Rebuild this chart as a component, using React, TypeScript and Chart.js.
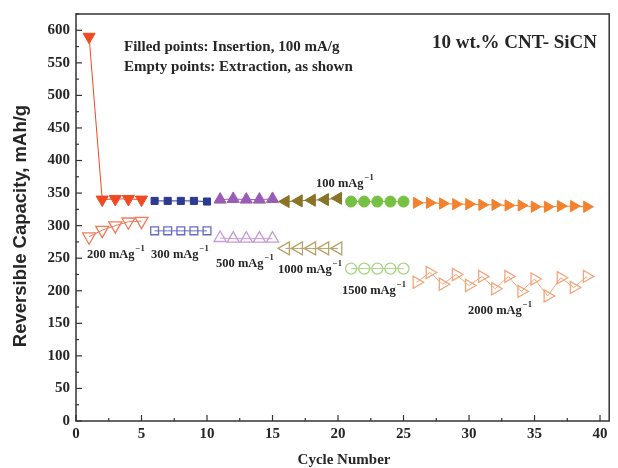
import React, { useEffect, useRef } from "react";
import { Chart, registerables } from "chart.js";

Chart.register(...registerables);

// ---- data ----
const cycles200 = [1, 2, 3, 4, 5];
const cycles300 = [6, 7, 8, 9, 10];
const cycles500 = [11, 12, 13, 14, 15];
const cycles1000 = [16, 17, 18, 19, 20];
const cycles1500 = [21, 22, 23, 24, 25];
const cycles2000 = [26, 27, 28, 29, 30, 31, 32, 33, 34, 35, 36, 37, 38, 39];

const ins200 = [590, 340, 341, 341, 340];
const ins300 = [338, 338, 338, 338, 337];
const ins500 = [340, 341, 340, 340, 341];
const ins1000 = [337, 338, 339, 340, 342];
const ins1500 = [337, 337, 337, 337, 337];
const ins2000 = [335, 335, 334, 333, 333, 332, 332, 331, 331, 329, 329, 330, 330, 329];

const ext200 = [283, 293, 300, 306, 307];
const ext300 = [292, 292, 292, 292, 292];
const ext500 = [281, 280, 280, 280, 280];
const ext1000 = [265, 265, 265, 265, 265];
const ext1500 = [234, 234, 234, 234, 234];
const ext2000 = [213, 228, 210, 225, 208, 222, 203, 222, 199, 218, 192, 220, 205, 222];

const xTicks = [0, 5, 10, 15, 20, 25, 30, 35, 40];
const yTicks = [0, 50, 100, 150, 200, 250, 300, 350, 400, 450, 500, 550, 600];

const SERIF = "'Liberation Serif', 'DejaVu Serif', serif";
const SANS = "'Liberation Sans', Arial, sans-serif";
const TXT = "#262626";

function pts(xs: number[], ys: number[]) {
  return xs.map((x, i) => ({ x, y: ys[i] }));
}

function ds(
  xs: number[],
  ys: number[],
  color: string,
  style: string,
  rotation: number,
  filled: boolean,
  radius: number
) {
  return {
    data: pts(xs, ys),
    borderColor: color,
    backgroundColor: filled ? color : "rgba(255,255,255,0)",
    pointBackgroundColor: filled ? color : "rgba(255,255,255,0)",
    pointBorderColor: color,
    pointBorderWidth: filled ? 1 : 1.3,
    pointStyle: style,
    pointRotation: rotation,
    pointRadius: radius,
    borderWidth: 1,
    showLine: true,
    tension: 0,
  };
}

function drawSup(ctx: CanvasRenderingContext2D, x: number, y: number, base: string, sup: string) {
  ctx.font = `bold 12.5px ${SERIF}`;
  ctx.textAlign = "left";
  ctx.textBaseline = "alphabetic";
  ctx.fillStyle = TXT;
  ctx.fillText(base, x, y);
  const w = ctx.measureText(base).width;
  ctx.font = `bold 8.5px ${SERIF}`;
  ctx.fillText(sup, x + w + 1, y - 7);
}

const decoPlugin = {
  id: "deco",
  afterDraw(chart: any) {
    const ctx: CanvasRenderingContext2D = chart.ctx;
    const { left, right, top, bottom } = chart.chartArea;
    const xs = chart.scales.x;
    const ys = chart.scales.y;
    ctx.save();
    // frame
    ctx.strokeStyle = "#333";
    ctx.lineWidth = 1.5;
    ctx.strokeRect(left, top, right - left, bottom - top);
    // ticks
    ctx.lineWidth = 1.2;
    for (let v = 0; v <= 40.5; v += 2.5) {
      const px = xs.getPixelForValue(v);
      const len = v % 5 === 0 ? 6 : 3;
      ctx.beginPath();
      ctx.moveTo(px, bottom);
      ctx.lineTo(px, bottom - len);
      ctx.stroke();
    }
    for (let v = 0; v <= 625; v += 25) {
      const py = ys.getPixelForValue(v);
      const len = v % 50 === 0 ? 6 : 3;
      ctx.beginPath();
      ctx.moveTo(left, py);
      ctx.lineTo(left + len, py);
      ctx.stroke();
    }
    // tick labels
    ctx.fillStyle = TXT;
    ctx.font = `bold 15px ${SERIF}`;
    ctx.textAlign = "center";
    ctx.textBaseline = "top";
    xTicks.forEach((v) => ctx.fillText(String(v), xs.getPixelForValue(v), bottom + 6));
    ctx.textAlign = "right";
    ctx.textBaseline = "middle";
    yTicks.forEach((v) => ctx.fillText(String(v), left - 6, ys.getPixelForValue(v)));
    // axis titles
    ctx.font = `bold 15px ${SERIF}`;
    ctx.textAlign = "center";
    ctx.textBaseline = "middle";
    ctx.fillText("Cycle Number", 344, 460);
    ctx.save();
    ctx.translate(21, 226);
    ctx.rotate(-Math.PI / 2);
    ctx.font = `bold 18.5px ${SANS}`;
    ctx.fillText("Reversible Capacity, mAh/g", 0, 0);
    ctx.restore();
    // annotations
    ctx.textAlign = "left";
    ctx.textBaseline = "alphabetic";
    ctx.font = `bold 15px ${SERIF}`;
    ctx.fillText("Filled points: Insertion, 100 mA/g", 124, 51);
    ctx.fillText("Empty points: Extraction, as shown", 124, 71);
    ctx.font = `bold 19px ${SERIF}`;
    ctx.fillText("10 wt.% CNT- SiCN", 432, 48);
    drawSup(ctx, 87, 258, "200 mAg", "\u22121");
    drawSup(ctx, 151, 258, "300 mAg", "\u22121");
    drawSup(ctx, 216, 267, "500 mAg", "\u22121");
    drawSup(ctx, 278, 273, "1000 mAg", "\u22121");
    drawSup(ctx, 316, 187, "100 mAg", "\u22121");
    drawSup(ctx, 342, 294, "1500 mAg", "\u22121");
    drawSup(ctx, 468, 314, "2000 mAg", "\u22121");
    ctx.restore();
  },
};

export default function App() {
  const ref = useRef<HTMLCanvasElement>(null);
  useEffect(() => {
    if (!ref.current) return;
    const red = "#ef4a24";
    const redO = "#f27a5c";
    const blue = "#2c3a92";
    const blueO = "#6a6ac4";
    const purple = "#9a5cb4";
    const purpleO = "#c79bd6";
    const olive = "#8a7326";
    const oliveO = "#b7a26a";
    const green = "#76c043";
    const greenO = "#a9d384";
    const orange = "#f3822e";
    const orangeO = "#f4a57a";
    const chart = new Chart(ref.current, {
      type: "scatter",
      data: {
        datasets: [
          ds(cycles200, ins200, red, "triangle", 180, true, 7),
          ds(cycles300, ins300, blue, "rect", 0, true, 5),
          ds(cycles500, ins500, purple, "triangle", 0, true, 7),
          ds(cycles1000, ins1000, olive, "triangle", 270, true, 7),
          ds(cycles1500, ins1500, green, "circle", 0, true, 5.5),
          ds(cycles2000, ins2000, orange, "triangle", 90, true, 6.5),
          ds(cycles200, ext200, redO, "triangle", 180, false, 7.5),
          ds(cycles300, ext300, blueO, "rect", 0, false, 5.5),
          ds(cycles500, ext500, purpleO, "triangle", 0, false, 7),
          ds(cycles1000, ext1000, oliveO, "triangle", 270, false, 7.5),
          ds(cycles1500, ext1500, greenO, "circle", 0, false, 5.5),
          ds(cycles2000, ext2000, orangeO, "triangle", 90, false, 7),
        ] as any,
      },
      options: {
        animation: false,
        responsive: false,
        maintainAspectRatio: false,
        layout: { padding: { top: 14, right: 0, left: 0, bottom: 0 } },
        plugins: { legend: { display: false }, tooltip: { enabled: false } },
        scales: {
          x: {
            type: "linear",
            min: 0,
            max: 40.7,
            grid: { display: false },
            border: { display: false },
            ticks: { display: false },
            afterFit: (s: any) => {
              s.height = 47;
            },
          },
          y: {
            type: "linear",
            min: 0,
            max: 625,
            grid: { display: false },
            border: { display: false },
            ticks: { display: false },
            afterFit: (s: any) => {
              s.width = 76;
            },
          },
        },
      },
      plugins: [decoPlugin],
    });
    return () => chart.destroy();
  }, []);
  return (
    <div style={{ position: "fixed", left: 0, top: 0, width: 618, height: 468, background: "#fff" }}>
      <canvas ref={ref} width={618} height={468} style={{ width: 618, height: 468 }} />
    </div>
  );
}
